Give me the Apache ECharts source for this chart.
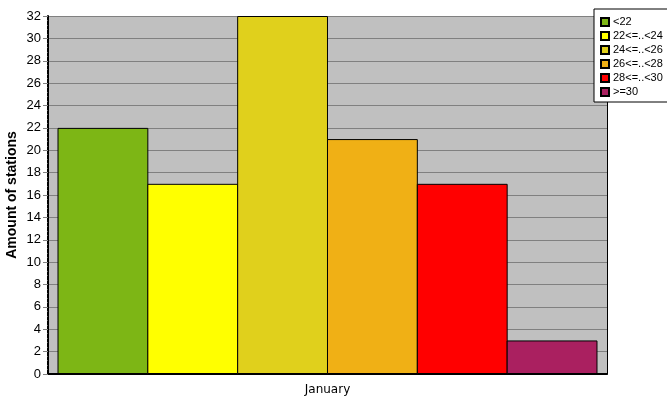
<!DOCTYPE html>
<html>
<head>
<meta charset="utf-8">
<script src="https://cdn.jsdelivr.net/npm/echarts@6/dist/echarts.min.js"></script>
<style>
  html, body { margin: 0; padding: 0; background: #fff; }
  #chart { width: 667px; height: 415px; }
</style>
</head>
<body>
<div id="chart"></div>
<script>
// data
const categories = ["January"];
const seriesNames = ["<22", "22<=..<24", "24<=..<26", "26<=..<28", "28<=..<30", ">=30"];
const seriesValues = [22, 17, 32, 21, 17, 3];
const seriesColors = ["#7db615", "#ffff00", "#e0d01c", "#f0b015", "#ff0000", "#aa2060"];

const FONT = "Liberation Sans";

const chart = echarts.init(document.getElementById("chart"));

const series = seriesNames.map((name, i) => ({
  name: name,
  type: "bar",
  data: [seriesValues[i]],
  barGap: "-1.1%",
  barCategoryGap: "3.4%",
  itemStyle: { color: seriesColors[i], borderColor: "#000", borderWidth: 1 },
  emphasis: { disabled: true },
}));

chart.setOption({
  animation: false,
  backgroundColor: "#fff",
  grid: {
    left: 48, right: 60, top: 16, bottom: 41,
    outerBoundsMode: "none",
    containLabel: false,
    show: true, backgroundColor: "#c0c0c0", borderWidth: 0,
  },
  legend: {
    orient: "vertical",
    left: 594, top: 9,
    width: 72,
    padding: [6, 20, 3, 6],
    backgroundColor: "#fff",
    borderColor: "#000",
    borderWidth: 1,
    itemWidth: 8, itemHeight: 8,
    itemGap: 0,
    icon: "rect",
    textStyle: { fontFamily: FONT, fontSize: 11, lineHeight: 14, color: "#000", padding: [0, 0, 0, -1] },
    data: seriesNames,
  },
  xAxis: {
    type: "category",
    data: categories,
    axisLine: { lineStyle: { color: "#000", width: 2 } },
    axisTick: { alignWithLabel: true, length: 5, lineStyle: { color: "#808080" } },
    axisLabel: { fontFamily: "DejaVu Sans", fontSize: 12, color: "#000", margin: 10 },
  },
  yAxis: [
    {
      type: "value",
      min: 0, max: 32, interval: 2,
      name: "Amount of stations",
      nameLocation: "middle",
      nameGap: 29,
      nameMoveOverlap: false,
      nameTextStyle: { fontFamily: FONT, fontSize: 14, fontWeight: "bold", color: "#000" },
      axisLine: { show: true, lineStyle: { color: "#000", width: 2 } },
      axisTick: { show: true, length: 5, lineStyle: { color: "#808080" } },
      minorTick: { show: true, splitNumber: 5, length: 1, lineStyle: { color: "#555" } },
      axisLabel: { fontFamily: FONT, fontSize: 13, color: "#000", margin: 7 },
      splitLine: { show: true, lineStyle: { color: "#808080", width: 1 } },
    },
    {
      type: "value",
      position: "right",
      min: 0, max: 32, interval: 2,
      axisLine: { show: true, lineStyle: { color: "#000", width: 1 } },
      axisTick: { show: false },
      axisLabel: { show: false },
      splitLine: { show: false },
    },
  ],
  series: series,
});
</script>
</body>
</html>
